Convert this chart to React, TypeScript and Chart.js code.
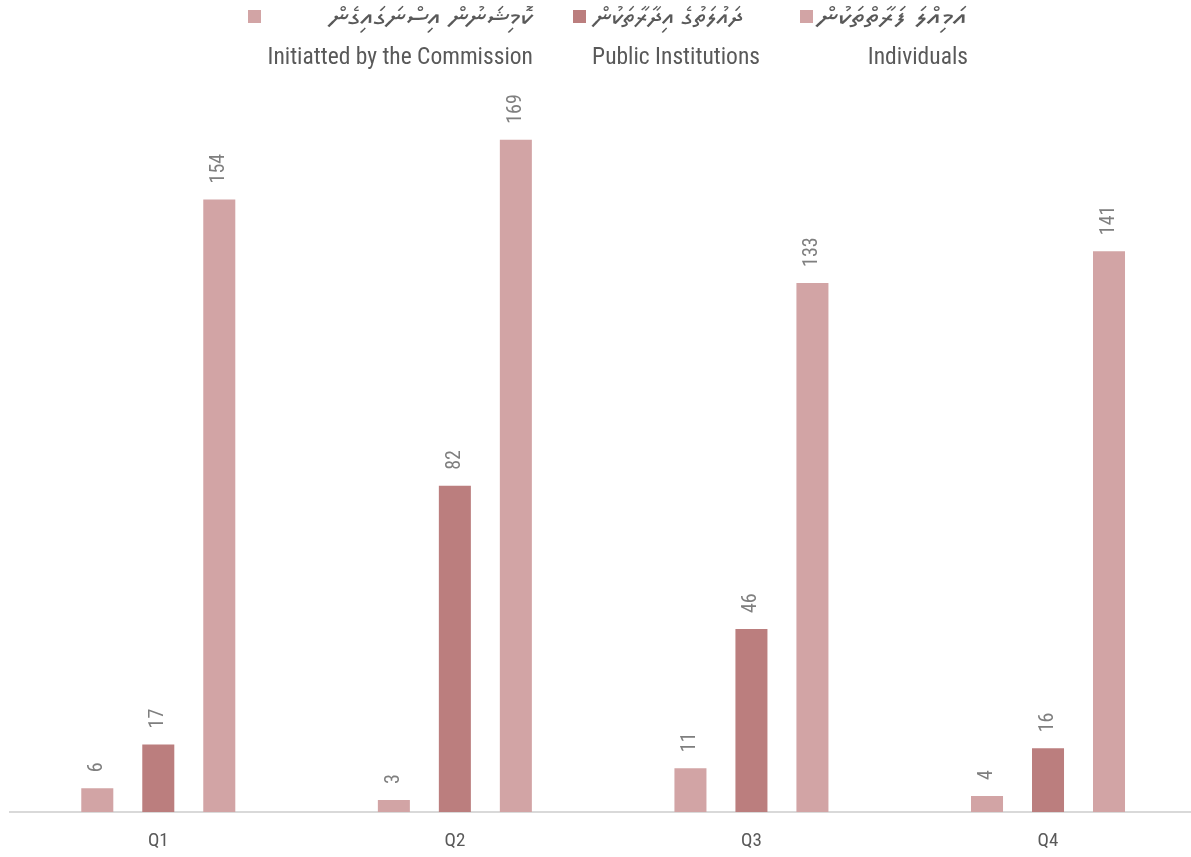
import React, { useEffect, useRef } from "react";
import { Chart, registerables } from "chart.js";

Chart.register(...registerables);

const categories = ["Q1", "Q2", "Q3", "Q4"];
const commissionValues = [6, 3, 11, 4];
const publicValues = [17, 82, 46, 16];
const individualValues = [154, 169, 133, 141];
const seriesEnglish = ["Initiatted by the Commission", "Public Institutions", "Individuals"];
const seriesDhivehi = ["ކޮމިޝަނުން އިސްނަގައިގެން", "ދައުލަތުގެ އިދާރާތަކުން", "އަމިއްލަ ފަރާތްތަކުން"];

const LIGHT = "#d2a4a5";
const DARK = "#bb7e7e";
const TEXT = "#595959";
const LABEL = "#7f7f7f";
const FONT = "'Liberation Sans Narrow', 'Roboto Condensed', 'Roboto', sans-serif";
const THAANA_FONT = "'Noto Sans Thaana', 'MV Boli', 'DejaVu Sans', sans-serif";

const legendLayout = [
  { box: 248, thaanaRight: 533, thaanaWidth: 204, englishRight: 533 },
  { box: 573, thaanaRight: 743, thaanaWidth: 150, englishRight: 760 },
  { box: 800, thaanaRight: 967, thaanaWidth: 150, englishRight: 968 },
];

const legendPlugin = {
  id: "customLegend",
  afterDraw(chart: any) {
    const ctx = chart.ctx;
    const ds = chart.data.datasets;
    ctx.save();
    ds.forEach((d: any, i: number) => {
      const l = legendLayout[i];
      ctx.fillStyle = d.backgroundColor;
      ctx.fillRect(l.box, 10, 13, 13);
      ctx.fillStyle = TEXT;
      ctx.textAlign = "right";
      ctx.textBaseline = "alphabetic";
      ctx.font = `26px ${THAANA_FONT}`;
      const w = ctx.measureText(seriesDhivehi[i]).width;
      const sx = w > 0 ? l.thaanaWidth / w : 1;
      ctx.save();
      ctx.translate(l.thaanaRight, 25);
      ctx.scale(sx, 1);
      ctx.fillText(seriesDhivehi[i], 0, 0);
      ctx.restore();
      ctx.font = `23.5px ${FONT}`;
      ctx.fillText(seriesEnglish[i], l.englishRight, 64);
    });
    ctx.restore();
  },
};

const valueLabelPlugin = {
  id: "valueLabels",
  afterDatasetsDraw(chart: any) {
    const ctx = chart.ctx;
    ctx.save();
    ctx.fillStyle = LABEL;
    ctx.font = `20px ${FONT}`;
    ctx.textAlign = "left";
    ctx.textBaseline = "middle";
    chart.data.datasets.forEach((d: any, i: number) => {
      const meta = chart.getDatasetMeta(i);
      meta.data.forEach((bar: any, j: number) => {
        ctx.save();
        ctx.translate(bar.x, bar.y - 16);
        ctx.rotate(-Math.PI / 2);
        ctx.fillText(String(d.data[j]), 0, 0);
        ctx.restore();
      });
    });
    ctx.restore();
  },
};

export default function App() {
  const ref = useRef<HTMLCanvasElement>(null);
  useEffect(() => {
    document.body.style.margin = "0";
    const chart = new Chart(ref.current!, {
      type: "bar",
      data: {
        labels: categories,
        datasets: [
          { label: seriesEnglish[0], data: commissionValues, backgroundColor: LIGHT },
          { label: seriesEnglish[1], data: publicValues, backgroundColor: DARK },
          { label: seriesEnglish[2], data: individualValues, backgroundColor: LIGHT },
        ],
      },
      options: {
        responsive: false,
        animation: false,
        layout: { padding: { left: 10, right: 3.7, top: 96, bottom: 0 } },
        datasets: { bar: { categoryPercentage: 0.617, barPercentage: 0.525 } },
        plugins: { legend: { display: false }, tooltip: { enabled: false } },
        scales: {
          y: { display: false, min: 0, max: 180 },
          x: {
            grid: { display: false },
            border: { color: "#d9d9d9", width: 2 },
            ticks: { color: TEXT, font: { family: FONT, size: 19 }, padding: 10 },
            afterFit: (s: any) => { s.height = 45; },
          },
        },
      },
      plugins: [legendPlugin, valueLabelPlugin],
    });
    return () => chart.destroy();
  }, []);
  return (
    <div style={{ width: 1191, height: 857, overflow: "hidden" }}>
      <canvas ref={ref} width={1200} height={857} style={{ display: "block", width: 1200, height: 857 }} />
    </div>
  );
}
